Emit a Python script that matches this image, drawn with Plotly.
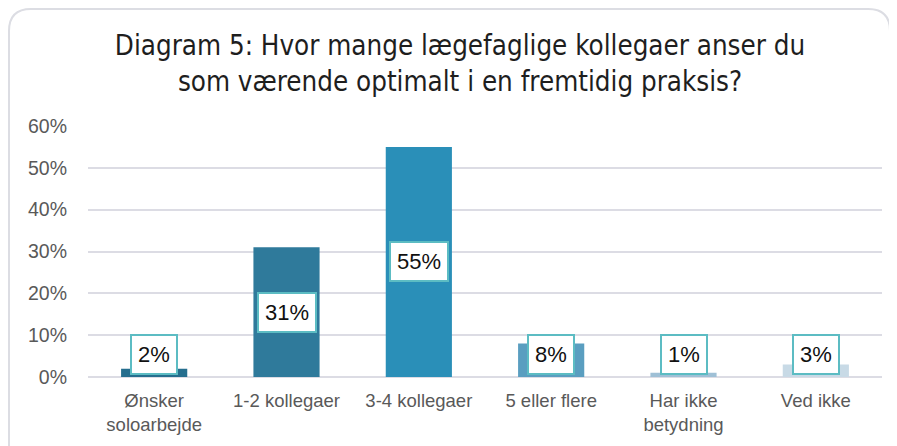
import plotly.graph_objects as go

categories = ["Ønsker<br>soloarbejde", "1-2 kollegaer", "3-4 kollegaer", "5 eller flere", "Har ikke<br>betydning", "Ved ikke"]
values = [2, 31, 55, 8, 1, 3]
labels = ["2%", "31%", "55%", "8%", "1%", "3%"]
bar_colors = ["#256e8e", "#2f7a9b", "#2a8fb8", "#5a9ec0", "#9fc0d6", "#c8dae6"]

# page body has an 8px margin, so the figure is drawn 8px in from the top-left
W, H = 889, 438
L, R, T, B = 80, 15, 118, 69
pw, ph = W - L - R, H - T - B

fig = go.Figure()
fig.add_trace(go.Bar(
    x=categories, y=values, marker=dict(color=bar_colors, line=dict(width=0)),
    width=0.5, hoverinfo="skip"
))

for c, v, lab in zip(categories, values, labels):
    fig.add_annotation(
        x=c, y=max(v / 2, 5.4), text=lab, showarrow=False,
        font=dict(family="Liberation Sans, Arial", size=22, color="#111111"),
        bgcolor="white", bordercolor="#5cbcc3", borderwidth=2, borderpad=6,
        xanchor="center", yanchor="middle"
    )

def px(x):
    return (x - L) / pw

def py(y):
    return (H - B - y) / ph

# rounded outer border
x0, x1, y0, y1, r = 1, 882, 1, 470, 22
path = (f"M {px(x0)},{py(y1)} L {px(x0)},{py(y0 + r)} "
        f"Q {px(x0)},{py(y0)} {px(x0 + r)},{py(y0)} "
        f"L {px(x1 - r)},{py(y0)} Q {px(x1)},{py(y0)} {px(x1)},{py(y0 + r)} "
        f"L {px(x1)},{py(y1)}")
fig.add_shape(type="path", path=path, xref="paper", yref="paper",
              line=dict(color="#dcdde3", width=2), layer="below")

fig.update_layout(
    width=W, height=H,
    margin=dict(l=L, r=R, t=T, b=B, autoexpand=False),
    paper_bgcolor="white", plot_bgcolor="white",
    showlegend=False,
    title=dict(
        text="Diagram 5: Hvor mange lægefaglige kollegaer anser du<br>som værende optimalt i en fremtidig praksis?",
        x=452 / W, xanchor="center", xref="container", y=0.893, yanchor="middle",
        font=dict(family="DejaVu Sans Condensed, Liberation Sans Narrow, Liberation Sans", size=27.5, color="#1e1e1e")
    ),
    bargap=0.5,
    xaxis=dict(
        showgrid=False, showline=False, ticks="",
        tickfont=dict(family="Liberation Sans, Arial", size=18.5, color="#595959"),
        ticklabelstandoff=10,
    ),
    yaxis=dict(
        range=[0, 60], dtick=10, ticksuffix="%",
        showgrid=True, gridcolor="#dcdce4", gridwidth=1.5,
        zeroline=True, zerolinecolor="#dcdce4", zerolinewidth=1.5,
        showline=False, ticks="",
        tickfont=dict(family="Liberation Sans, Arial", size=19.5, color="#595959"),
        ticklabelstandoff=20,
    ),
)

fig.write_html("out.html")
